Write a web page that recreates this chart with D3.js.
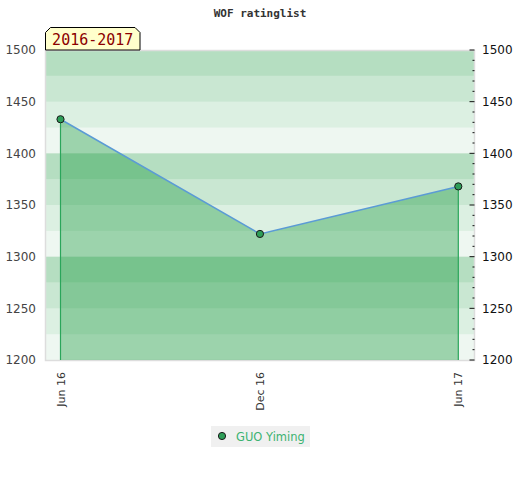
<!DOCTYPE html>
<html><head><meta charset="utf-8">
<script src="https://cdn.jsdelivr.net/npm/d3@7"></script>
<style>body{margin:0;background:#fff;}</style>
</head><body>
<svg id="c" width="520" height="480"></svg>
<script>
const dates = ["2016-06-01", "2016-12-01", "2017-06-01"];
const tickLabels = ["Jun 16", "Dec 16", "Jun 17"];
const ratings = [1433, 1322, 1368];
const seriesName = "GUO Yiming";
const periodLabel = "2016-2017";
const title = "WOF ratinglist";
const yTicks = [1200, 1250, 1300, 1350, 1400, 1450, 1500];

const svg = d3.select("#c");
const L = 45, R = 475, T = 50, B = 360;
const parse = d3.utcParse("%Y-%m-%d");
const dd = dates.map(parse);
const x = d3.scaleUtc().domain([dd[0], dd[2]]).range([60.5, 458.3]);
const y = d3.scaleLinear().domain([1200, 1500]).range([B, T]);
const G = "rgb(10,147,50)";

// bands
const bandAlphas = [0.07, 0.14, 0.22, 0.30];
const bands = d3.range(1200, 1500, 25);
svg.selectAll("rect.band").data(bands).join("rect")
  .attr("x", L).attr("width", R - L)
  .attr("y", d => y(d + 25)).attr("height", d => y(d) - y(d + 25))
  .attr("fill", G).attr("fill-opacity", (d, i) => bandAlphas[i % 4]);

// frame
svg.append("rect").attr("x", L + 0.5).attr("y", T + 0.5).attr("width", R - L - 1).attr("height", B - T)
  .attr("fill", "none").attr("stroke", "#ddd").attr("stroke-width", 1.5);

const data = dd.map((d, i) => ({d, v: ratings[i]}));

// area
svg.append("path").datum(data)
  .attr("d", d3.area().x(p => x(p.d)).y0(B).y1(p => y(p.v)))
  .attr("fill", G).attr("fill-opacity", 0.36);
// edge lines
[data[0], data[data.length - 1]].forEach(p => {
  svg.append("line").attr("x1", x(p.d)).attr("x2", x(p.d)).attr("y1", y(p.v)).attr("y2", B)
    .attr("stroke", "#2aa55a").attr("stroke-width", 1.2);
});
// line
svg.append("path").datum(data)
  .attr("d", d3.line().x(p => x(p.d)).y(p => y(p.v)))
  .attr("fill", "none").attr("stroke", "#5b9bd5").attr("stroke-width", 1.5);
// points
svg.selectAll("circle.pt").data(data).join("circle")
  .attr("cx", p => x(p.d)).attr("cy", p => y(p.v)).attr("r", 3.6)
  .attr("fill", "#2e9e58").attr("stroke", "#1a1a1a").attr("stroke-width", 1);

// left axis labels
svg.selectAll("text.yl").data(yTicks).join("text")
  .attr("x", 36).attr("y", d => y(d)).attr("dy", "0.35em").attr("text-anchor", "end")
  .attr("font-family", "DejaVu Sans").attr("font-size", 12).attr("fill", "#444").text(d => d);
// right axis labels
svg.selectAll("text.yr").data(yTicks).join("text")
  .attr("x", 482).attr("y", d => y(d)).attr("dy", "0.35em").attr("text-anchor", "start")
  .attr("font-family", "DejaVu Sans").attr("font-size", 12).attr("fill", "#111").text(d => d);
// right ticks
const minor = d3.range(1200, 1501, 10);
svg.selectAll("line.rt").data(minor).join("line")
  .attr("x1", d => d % 50 === 0 ? 469.5 : 472.5).attr("x2", 474.5)
  .attr("y1", d => y(d)).attr("y2", d => y(d))
  .attr("stroke", "#111").attr("stroke-width", 1);

// x labels
dd.forEach((d, i) => {
  svg.append("text").attr("transform", `translate(${x(d) + 4},372) rotate(-90)`)
    .attr("text-anchor", "end").attr("font-family", "DejaVu Sans").attr("font-size", 11).attr("fill", "#333")
    .text(tickLabels[i]);
});

// title
svg.append("text").attr("x", 260).attr("y", 17).attr("text-anchor", "middle")
  .attr("font-family", "DejaVu Sans Mono").attr("font-weight", "bold").attr("font-size", 11).attr("fill", "#333")
  .text(title);

// period label box
const bx0 = 45.5, bx1 = 140, by0 = 27.5, by1 = 50, ch = 5;
svg.append("path").attr("d", `M${bx0},${by1} L${bx0},${by0 + ch} L${bx0 + ch},${by0} L${bx1 - ch},${by0} L${bx1},${by0 + ch} L${bx1},${by1} Z`)
  .attr("fill", "#ffffcc").attr("stroke", "#000").attr("stroke-width", 1);
svg.append("text").attr("x", (bx0 + bx1) / 2).attr("y", 45).attr("text-anchor", "middle")
  .attr("font-family", "DejaVu Sans Mono").attr("font-size", 15).attr("fill", "#8b0000").text(periodLabel);

// legend
svg.append("rect").attr("x", 211).attr("y", 426).attr("width", 99).attr("height", 21).attr("fill", "#f0f0f0");
svg.append("circle").attr("cx", 222).attr("cy", 436).attr("r", 3.6).attr("fill", "#2e9e58").attr("stroke", "#1a1a1a");
svg.append("text").attr("x", 236).attr("y", 440.5).attr("font-family", "DejaVu Sans").attr("font-size", 11.5)
  .attr("fill", "#3cb371").text(seriesName);
</script>
</body></html>
